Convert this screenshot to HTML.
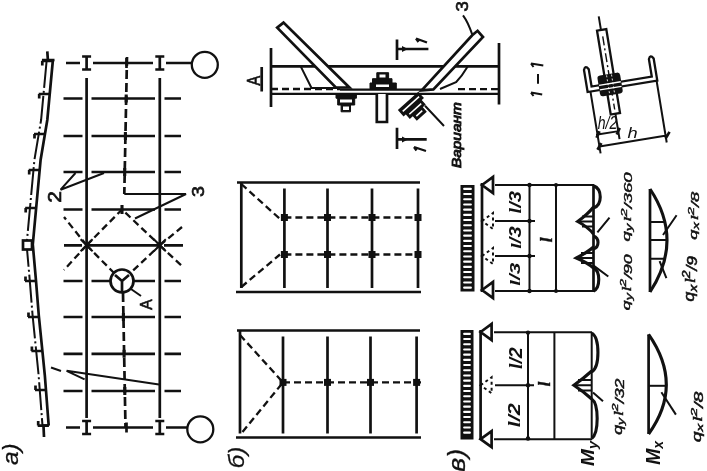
<!DOCTYPE html>
<html><head><meta charset="utf-8"><style>
html,body{margin:0;padding:0;background:#fff;}
svg{display:block;filter:blur(0.35px)}
.th{stroke:#111;stroke-width:2;fill:none}
.s2{stroke:#111;stroke-width:2.3;fill:none}
.s{stroke:#111;stroke-width:2.7;fill:none}
.s3{stroke:#111;stroke-width:3.1;fill:none}
.d{stroke-dasharray:7 4}
.dt{stroke-dasharray:3 3}
.d2{stroke-dasharray:9 4}
.dd{stroke-dasharray:28 3 2 3}
text{font-family:"Liberation Sans",sans-serif;fill:#111}
</style></head><body>
<svg width="707" height="471" viewBox="0 0 707 471">
<path d="M66 63H80M93 63H153M166 63H192" class="s"/>
<path d="M82.1 56.5H91.1M86.6 56.5V69.5M82.1 69.5H91.1" class="s"/>
<path d="M155.3 56.5H164.3M159.8 56.5V69.5M155.3 69.5H164.3" class="s"/>
<path d="M126.5 58V68" class="s"/>
<circle cx="204.8" cy="64.8" r="13" class="s2"/>
<path d="M63.5 98.5H82.5M91.5 98.5H155M164.5 98.5H181" class="s"/>
<path d="M63.5 136H82.5M91.5 136H155M164.5 136H181" class="s"/>
<path d="M63.5 172H82.5M91.5 172H155M164.5 172H181" class="s"/>
<path d="M63.5 209.5H82.5M91.5 209.5H155M164.5 209.5H181" class="s"/>
<path d="M64 245.3H82M164 245.3H183" class="s"/>
<path d="M63.5 281H82.5M91.5 281H155M164.5 281H181" class="s"/>
<path d="M63.5 317H82.5M91.5 317H155M164.5 317H181" class="s"/>
<path d="M63.5 353.8H82.5M91.5 353.8H155M164.5 353.8H181" class="s"/>
<path d="M63.5 391H82.5M91.5 391H155M164.5 391H181" class="s"/>
<path d="M66 427.5H80M93 427.5H153M166 427.5H187" class="s"/>
<path d="M82.1 421.0H91.1M86.6 421.0V434.0M82.1 434.0H91.1" class="s"/>
<path d="M155.3 421.0H164.3M159.8 421.0V434.0M155.3 434.0H164.3" class="s"/>
<path d="M126.5 422.5V432.5" class="s"/>
<circle cx="200.3" cy="429.3" r="13" class="s2"/>
<path d="M86.6 78V418M159.8 78V418" class="s"/>
<path d="M127 57L124.3 194M123 293L125.5 428" class="s d2"/>
<path d="M126.2 94.5V102.5" class="s3"/>
<path d="M125.4 132V140" class="s3"/>
<path d="M124.7 168V176" class="s3"/>
<path d="M122.8 277V285" class="s3"/>
<path d="M123.4 313V321" class="s3"/>
<path d="M124.1 349.8V357.8" class="s3"/>
<path d="M124.8 387V395" class="s3"/>
<path d="M124.3 194H186L135 218.5" class="th"/>
<path d="M104 173L60.6 189.7L75.5 173" class="th"/>
<path d="M84.6 379.3L66.6 370.8L159 384.6" class="th"/>
<path d="M51 367.5L61 371" class="th"/>
<path d="M86.6 245.3L122 209.5L159.8 245.3L122 281Z" class="s2 d"/>
<path d="M86.6 245.3L64 217M86.6 245.3L64 270M159.8 245.3L182 227M159.8 245.3L182 266" class="s2 d"/>
<path d="M86.6 245.3H159.8" class="s"/>
<path d="M122 205V214" class="s3"/>
<path d="M80.6 239.3L92.6 251.3M80.6 251.3L92.6 239.3" class="th"/>
<path d="M153.8 239.3L165.8 251.3M153.8 251.3L165.8 239.3" class="th"/>
<circle cx="122" cy="281" r="11.5" class="s" style="fill:#fff"/>
<path d="M122 281V293M122 281L115 275M122 281L129 275" class="s"/>
<path d="M131 289L141 296" class="th"/>
<path d="M47.3 51.4L47.8 59M52.9 60L47.3 120L40.6 160L32.8 244.5L35.9 279.7L38.8 315.5L42.4 351.2L44.8 375L48.7 425.7M43.5 426L44 437" class="s"/>
<path d="M46.7 60L41.1 120L34.4 160L26.6 244.5L29.7 279.7L32.6 315.5L36.2 351.2L38.6 375L42.5 425.7" class="th dd"/>
<path d="M42 60H54.5M42.5 425.7H48.7" class="s"/>
<rect x="23" y="240.5" width="9" height="9" class="s" style="fill:#fff"/>
<path d="M41.8 61H52.8M42.3 61V65.5" class="s"/>
<path d="M38.7 94H49.7M39.2 94V98.5" class="s"/>
<path d="M34.0 134H45.0M34.5 134V138.5" class="s"/>
<path d="M28.7 170H39.7M29.2 170V174.5" class="s"/>
<path d="M25.2 208H36.2M25.7 208V212.5" class="s"/>
<path d="M25.0 281H36.0M25.5 281V276.5" class="s"/>
<path d="M28.0 317H39.0M28.5 317V312.5" class="s"/>
<path d="M31.4 351H42.4M31.9 351V346.5" class="s"/>
<path d="M35.0 390H46.0M35.5 390V385.5" class="s"/>
<path d="M37.7 425.6H48.7M38.2 425.6V421.1" class="s"/>
<path d="M237 182.5H420M236 292H421" class="s"/>
<path d="M241.3 182.5V288" class="s"/>
<path d="M284.4 188.5V288" class="s"/>
<path d="M327.5 188.5V288" class="s"/>
<path d="M372 188.5V288" class="s"/>
<path d="M418 188.5V288" class="s"/>
<path d="M284.4 217.5H421" class="s2 d"/>
<rect x="280.9" y="214.0" width="7" height="7" fill="#111"/>
<rect x="324.0" y="214.0" width="7" height="7" fill="#111"/>
<rect x="368.5" y="214.0" width="7" height="7" fill="#111"/>
<rect x="414.5" y="214.0" width="7" height="7" fill="#111"/>
<path d="M284.4 254.5H421" class="s2 d"/>
<rect x="280.9" y="251.0" width="7" height="7" fill="#111"/>
<rect x="324.0" y="251.0" width="7" height="7" fill="#111"/>
<rect x="368.5" y="251.0" width="7" height="7" fill="#111"/>
<rect x="414.5" y="251.0" width="7" height="7" fill="#111"/>
<path d="M241.3 184L280 219M241.3 287L280 254.5" class="s2 d"/>
<path d="M237 330.5H420M236 437.5H421" class="s"/>
<path d="M240 330.5V433.5" class="s"/>
<path d="M283 336.5V433.5" class="s"/>
<path d="M327.5 336.5V433.5" class="s"/>
<path d="M370.5 336.5V433.5" class="s"/>
<path d="M416.6 336.5V433.5" class="s"/>
<path d="M283 382.4H421" class="s2 d"/>
<rect x="279.5" y="378.9" width="7" height="7" fill="#111"/>
<rect x="324.0" y="378.9" width="7" height="7" fill="#111"/>
<rect x="367.0" y="378.9" width="7" height="7" fill="#111"/>
<rect x="413.1" y="378.9" width="7" height="7" fill="#111"/>
<path d="M240 335L283 382.4L240 435" class="s2 d"/>
<rect x="460.5" y="185" width="14.0" height="106.5" fill="#111"/>
<rect x="463.1" y="187.8" width="8.8" height="2.1" rx="1" fill="#fff"/>
<rect x="463.1" y="193.0" width="8.8" height="2.1" rx="1" fill="#fff"/>
<rect x="463.1" y="198.2" width="8.8" height="2.1" rx="1" fill="#fff"/>
<rect x="463.1" y="203.4" width="8.8" height="2.1" rx="1" fill="#fff"/>
<rect x="463.1" y="208.6" width="8.8" height="2.1" rx="1" fill="#fff"/>
<rect x="463.1" y="213.8" width="8.8" height="2.1" rx="1" fill="#fff"/>
<rect x="463.1" y="219.0" width="8.8" height="2.1" rx="1" fill="#fff"/>
<rect x="463.1" y="224.2" width="8.8" height="2.1" rx="1" fill="#fff"/>
<rect x="463.1" y="229.4" width="8.8" height="2.1" rx="1" fill="#fff"/>
<rect x="463.1" y="234.6" width="8.8" height="2.1" rx="1" fill="#fff"/>
<rect x="463.1" y="239.8" width="8.8" height="2.1" rx="1" fill="#fff"/>
<rect x="463.1" y="245.0" width="8.8" height="2.1" rx="1" fill="#fff"/>
<rect x="463.1" y="250.2" width="8.8" height="2.1" rx="1" fill="#fff"/>
<rect x="463.1" y="255.4" width="8.8" height="2.1" rx="1" fill="#fff"/>
<rect x="463.1" y="260.6" width="8.8" height="2.1" rx="1" fill="#fff"/>
<rect x="463.1" y="265.8" width="8.8" height="2.1" rx="1" fill="#fff"/>
<rect x="463.1" y="271.0" width="8.8" height="2.1" rx="1" fill="#fff"/>
<rect x="463.1" y="276.2" width="8.8" height="2.1" rx="1" fill="#fff"/>
<rect x="463.1" y="281.4" width="8.8" height="2.1" rx="1" fill="#fff"/>
<rect x="463.1" y="286.6" width="8.8" height="2.1" rx="1" fill="#fff"/>
<rect x="460.5" y="330" width="13.0" height="109.5" fill="#111"/>
<rect x="463.1" y="332.8" width="7.8" height="2.1" rx="1" fill="#fff"/>
<rect x="463.1" y="338.0" width="7.8" height="2.1" rx="1" fill="#fff"/>
<rect x="463.1" y="343.2" width="7.8" height="2.1" rx="1" fill="#fff"/>
<rect x="463.1" y="348.4" width="7.8" height="2.1" rx="1" fill="#fff"/>
<rect x="463.1" y="353.6" width="7.8" height="2.1" rx="1" fill="#fff"/>
<rect x="463.1" y="358.8" width="7.8" height="2.1" rx="1" fill="#fff"/>
<rect x="463.1" y="364.0" width="7.8" height="2.1" rx="1" fill="#fff"/>
<rect x="463.1" y="369.2" width="7.8" height="2.1" rx="1" fill="#fff"/>
<rect x="463.1" y="374.4" width="7.8" height="2.1" rx="1" fill="#fff"/>
<rect x="463.1" y="379.6" width="7.8" height="2.1" rx="1" fill="#fff"/>
<rect x="463.1" y="384.8" width="7.8" height="2.1" rx="1" fill="#fff"/>
<rect x="463.1" y="390.0" width="7.8" height="2.1" rx="1" fill="#fff"/>
<rect x="463.1" y="395.2" width="7.8" height="2.1" rx="1" fill="#fff"/>
<rect x="463.1" y="400.4" width="7.8" height="2.1" rx="1" fill="#fff"/>
<rect x="463.1" y="405.6" width="7.8" height="2.1" rx="1" fill="#fff"/>
<rect x="463.1" y="410.8" width="7.8" height="2.1" rx="1" fill="#fff"/>
<rect x="463.1" y="416.0" width="7.8" height="2.1" rx="1" fill="#fff"/>
<rect x="463.1" y="421.2" width="7.8" height="2.1" rx="1" fill="#fff"/>
<rect x="463.1" y="426.4" width="7.8" height="2.1" rx="1" fill="#fff"/>
<rect x="463.1" y="431.6" width="7.8" height="2.1" rx="1" fill="#fff"/>
<path d="M482 183V292" class="s"/>
<path d="M482 185L493 177V193Z" class="s" fill="none"/>
<path d="M482 290L493 282V298Z" class="s" fill="none"/>
<path d="M482 221L493 213V229Z" class="th dt" fill="none"/>
<path d="M482 256L493 248V264Z" class="th dt" fill="none"/>
<path d="M495 185H594M495 291H594M495 221H535M495 256H535M529.5 185V291M556 185V291" class="th"/>
<circle cx="529.5" cy="185" r="2.2" fill="#111"/>
<circle cx="529.5" cy="221" r="2.2" fill="#111"/>
<circle cx="529.5" cy="256" r="2.2" fill="#111"/>
<circle cx="529.5" cy="291" r="2.2" fill="#111"/>
<circle cx="556" cy="185" r="2" fill="#111"/><circle cx="556" cy="291" r="2" fill="#111"/>
<path d="M480.6 330V440" class="s"/>
<path d="M480.6 332L491.6 324V340Z" class="s" fill="none"/>
<path d="M480.6 439.2L491.6 431.2V447.2Z" class="s" fill="none"/>
<path d="M480.6 385.3L491.6 377.3V393.3Z" class="th dt" fill="none"/>
<path d="M494 332.3H592M494 439.3H592M495 385.3H534M528 332.6V438.5M554.4 332.6V438.5" class="th"/>
<circle cx="528" cy="332.6" r="2.2" fill="#111"/>
<circle cx="528" cy="385.3" r="2.2" fill="#111"/>
<circle cx="528" cy="438.5" r="2.2" fill="#111"/>
<path d="M593.5 185.7C602.5 189 602.5 205 593.5 208" class="s3"/>
<path d="M593.5 207Q588 214 577.7 221.5Q588 227 593.5 234" class="s3"/>
<path d="M593.5 236C599.5 238 599.5 247 593.5 249" class="s3"/>
<path d="M593.5 247Q588 252 576.4 258Q588 263 593.5 268" class="s3"/>
<path d="M593.5 268C600.5 271 600.5 288 593.5 291" class="s3"/>
<path d="M593.5 185V291" class="s"/>
<path d="M582 216.5H593M580 221.5H593M582 226.5H593M581 253H593M579 258H593M581 263H593" stroke="#111" stroke-width="2"/>
<path d="M609.5 217.6L597.4 232.3M608.3 276.5L593.6 265.6" class="th"/>
<path d="M650 189V292" class="s"/><path d="M650 189Q684 240 650 292" class="s3"/>
<path d="M650 222.1H665M650 240H667M650 258.7H664" class="th"/>
<path d="M676.6 215.3L663 235M666.4 278.2L659.6 261.2" class="th"/>
<path d="M591.7 333C600 338 600 367 591.7 372" class="s3"/>
<path d="M591.7 371Q584 378 573.9 385.3Q584 392 591.7 399" class="s3"/>
<path d="M591.7 399C599 404 599 433 591.7 438.5" class="s3"/>
<path d="M591.7 333V438.5" class="th"/>
<path d="M578 380H591M576 385.3H591M578 390.5H591" stroke="#111" stroke-width="2"/>
<path d="M603 401.3L593 392.4" class="th"/>
<path d="M648.6 334.4V434" class="s"/><path d="M648.6 334.4Q684 385 648.6 434" class="s3"/>
<path d="M648.6 385.8H666" class="th"/>
<path d="M675.9 414.6L661.4 392.2" class="th"/>
<text transform="translate(630.43 241.46) rotate(-90) scale(0.4635 0.2551)" font-size="40" style="font-style:italic;" stroke="#111" stroke-width="1.5">q<tspan font-size="0.8em" dy="0.2em">y</tspan><tspan dy="-0.2em" font-size="0.5em"> </tspan><tspan font-family="Liberation Serif" font-style="italic">l</tspan><tspan font-size="0.8em" dy="-0.45em">2</tspan><tspan dy="0.45em">/360</tspan></text>
<text transform="translate(629.86 310.14) rotate(-90) scale(0.4397 0.2959)" font-size="40" style="font-style:italic;" stroke="#111" stroke-width="1.5">q<tspan font-size="0.8em" dy="0.2em">y</tspan><tspan dy="-0.2em" font-size="0.5em"> </tspan><tspan font-family="Liberation Serif" font-style="italic">l</tspan><tspan font-size="0.8em" dy="-0.45em">2</tspan><tspan dy="0.45em">/90</tspan></text>
<text transform="translate(697.16 239.66) rotate(-90) scale(0.4587 0.2818)" font-size="40" style="font-style:italic;" stroke="#111" stroke-width="1.5">q<tspan font-size="0.8em" dy="0.2em">x</tspan><tspan dy="-0.2em" font-size="0.5em"> </tspan><tspan font-family="Liberation Serif" font-style="italic">l</tspan><tspan font-size="0.8em" dy="-0.45em">2</tspan><tspan dy="0.45em">/8</tspan></text>
<text transform="translate(694.49 301.54) rotate(-90) scale(0.4359 0.3682)" font-size="40" style="font-style:italic;" stroke="#111" stroke-width="1.5">q<tspan font-size="0.8em" dy="0.2em">x</tspan><tspan dy="-0.2em" font-size="0.5em"> </tspan><tspan font-family="Liberation Serif" font-style="italic">l</tspan><tspan font-size="0.8em" dy="-0.45em">2</tspan><tspan dy="0.45em">/9</tspan></text>
<text transform="translate(622.11 434.74) rotate(-90) scale(0.4421 0.3061)" font-size="40" style="font-style:italic;" stroke="#111" stroke-width="1.5">q<tspan font-size="0.8em" dy="0.2em">y</tspan><tspan dy="-0.2em" font-size="0.5em"> </tspan><tspan font-family="Liberation Serif" font-style="italic">l</tspan><tspan font-size="0.8em" dy="-0.45em">2</tspan><tspan dy="0.45em">/32</tspan></text>
<text transform="translate(700.8 442.28) rotate(-90) scale(0.4846 0.3)" font-size="40" style="font-style:italic;" stroke="#111" stroke-width="1.5">q<tspan font-size="0.8em" dy="0.2em">x</tspan><tspan dy="-0.2em" font-size="0.5em"> </tspan><tspan font-family="Liberation Serif" font-style="italic">l</tspan><tspan font-size="0.8em" dy="-0.45em">2</tspan><tspan dy="0.45em">/8</tspan></text>
<text transform="translate(594.47 465.9) rotate(-90) scale(0.5041 0.4667)" font-size="40" style="font-style:italic;font-weight:bold;" stroke="#111" stroke-width="0">M<tspan font-size="0.72em" dy="0.18em">y</tspan></text>
<text transform="translate(660.29 464.78) rotate(-90) scale(0.4816 0.5212)" font-size="40" style="font-style:italic;font-weight:bold;" stroke="#111" stroke-width="0">M<tspan font-size="0.72em" dy="0.18em">x</tspan></text>
<text transform="translate(461.16 168.0) rotate(-90) scale(0.3847 0.3158)" font-size="40" style="font-style:italic;" stroke="#111" stroke-width="2.8">Вариант</text>
<text transform="translate(18.47 465.01) rotate(-90) scale(0.6121 0.5658)" font-size="40" style="font-style:italic;" stroke="#111" stroke-width="0.5">a)</text>
<text transform="translate(243.83 468.29) rotate(-90) scale(0.5969 0.559)" font-size="40" style="font-style:italic;" stroke="#111" stroke-width="0.5">б)</text>
<text transform="translate(464.58 471.67) rotate(-90) scale(0.6677 0.6026)" font-size="40" style="font-style:italic;" stroke="#111" stroke-width="0.5">в)</text>
<text transform="translate(61.16 202.83) rotate(-90) scale(0.525 0.4433)" font-size="40" style="" stroke="#111" stroke-width="1.5">2</text>
<text transform="translate(204.37 197.09) rotate(-90) scale(0.49 0.4333)" font-size="40" style="" stroke="#111" stroke-width="1.5">3</text>
<text transform="translate(468.37 11.46) rotate(-90) scale(0.465 0.4267)" font-size="40" style="" stroke="#111" stroke-width="1.5">3</text>
<text transform="translate(151.69 309.71) rotate(-90) scale(0.3929 0.41)" font-size="40" style="" stroke="#111" stroke-width="1.5">A</text>
<text transform="translate(259.92 85.54) rotate(-90) scale(0.3643 0.48)" font-size="40" style="" stroke="#111" stroke-width="1.5">A</text>
<text transform="translate(521.07 213.4) rotate(-90) scale(0.5023 0.429)" font-size="40" style="font-style:italic;font-weight:bold;" stroke="#111" stroke-width="0"><tspan font-family="Liberation Serif">l</tspan>/3</text>
<text transform="translate(521.11 248.7) rotate(-90) scale(0.5 0.3903)" font-size="40" style="font-style:italic;font-weight:bold;" stroke="#111" stroke-width="0"><tspan font-family="Liberation Serif">l</tspan>/3</text>
<text transform="translate(520.42 285.82) rotate(-90) scale(0.5186 0.3839)" font-size="40" style="font-style:italic;font-weight:bold;" stroke="#111" stroke-width="0"><tspan font-family="Liberation Serif">l</tspan>/3</text>
<text transform="translate(521.83 369.09) rotate(-90) scale(0.493 0.4677)" font-size="40" style="font-style:italic;font-weight:bold;" stroke="#111" stroke-width="0"><tspan font-family="Liberation Serif">l</tspan>/2</text>
<text transform="translate(519.57 427.34) rotate(-90) scale(0.5419 0.4258)" font-size="40" style="font-style:italic;font-weight:bold;" stroke="#111" stroke-width="0"><tspan font-family="Liberation Serif">l</tspan>/2</text>
<text transform="translate(551.5 242.3) rotate(-90) scale(0.4333 0.3967)" font-size="40" style="font-style:italic;font-weight:bold;" stroke="#111" stroke-width="1"><tspan font-family="Liberation Serif">l</tspan></text>
<text transform="translate(550.19 386.2) rotate(-90) scale(0.4083 0.4067)" font-size="40" style="font-style:italic;font-weight:bold;" stroke="#111" stroke-width="1"><tspan font-family="Liberation Serif">l</tspan></text>
<text transform="translate(597.65 129.0) rotate(0) scale(0.3519 0.4667)" font-size="40" style="font-style:italic;" stroke="#111" stroke-width="0">h/2</text>
<text transform="translate(627.54 137.7) rotate(0) scale(0.4579 0.3567)" font-size="40" style="font-style:italic;" stroke="#111" stroke-width="0">h</text>
<path d="M271 48V107M499 43V104.5" class="s"/>
<path d="M261.7 67V91.5" class="s"/>
<path d="M271 66.4H499" class="s"/>
<path d="M271 93.8H499" class="s2"/>
<path d="M340 89.7H425" class="s2"/>
<path d="M271 89H340M458 89.2H499" class="s2 d"/>
<path d="M277.2 27.6L283.5 22.6L349.4 87.5L335.8 87.5Z" class="s" style="fill:#fff"/>
<path d="M477.6 30.8L483 37L433.4 89.4L421.7 90.3L472.2 35.3Z" class="s" style="fill:#fff"/>
<path d="M300.7 66.4L311.5 88H340M467.7 66.4Q462 76 456 82.2L440 89" class="th"/>
<path d="M336 94.8H356.4V98.2H336ZM337.7 98.2H354.7V105H337.7ZM341.1 105H350.5V111.8H341.1Z" fill="#111" stroke="#111" stroke-width="1"/>
<rect x="340" y="99.5" width="12" height="3" fill="#fff"/><rect x="343" y="106.5" width="6" height="3.5" fill="#fff"/>
<path d="M376.8 72.7H388.6V78.7H376.8ZM372.5 78.7H392V83H372.5ZM370 83H396.3V88.9H370Z" fill="#111" stroke="#111" stroke-width="1"/>
<rect x="379.5" y="74.5" width="6" height="3" fill="#fff"/><rect x="376" y="84.5" width="13" height="2.5" fill="#fff"/>
<path d="M376.8 94V122H387V94" class="s" style="fill:#fff"/>
<g transform="rotate(-42 414 106)"><rect x="400" y="99" width="26" height="7" fill="#111" stroke="#111" stroke-width="1.5"/><rect x="403" y="106" width="20" height="6" fill="#111" stroke="#111" stroke-width="1.5"/><rect x="407" y="112" width="12" height="6" fill="#111" stroke="#111" stroke-width="1.5"/><path d="M402 102.5H424M405 109H421M409 115H417" stroke="#fff" stroke-width="1.6"/></g>
<path d="M425 105.8L444 126M472.2 34.4Q468 22 463 15.3" class="th"/>
<path d="M397 39.5V60M397 49H428.4M397 127.8V149M397 139.4H426.7" class="s"/>
<path d="M402 46L408 49L402 52ZM402 136.4L408 139.4L402 142.4Z" fill="#111"/>
<g transform="rotate(-9.3 609.5 84)">
<path d="M609.8 15.5V29.5" class="th"/>
<rect x="605.8" y="29.3" width="9.4" height="85" class="s2" style="fill:#fff"/>
<path d="M610.5 36V110" stroke="#111" stroke-width="1.4" stroke-dasharray="9 3 2 3"/>
<path d="M586.6 66Q588.6 61 591.4 66V83.6H652.4V66Q654.4 61 657.2 66V88.4H586.6Z" class="s2" style="fill:#fff"/>
<path d="M589.5 88.4V151M656.5 88.4V151M588 144H659M588 132H611M610.5 114V140" class="th"/>
<path d="M587 147L592 141M656 147L661 141M588 135L592 129M608.5 135L612.5 129" class="s"/>
<rect x="598.5" y="74" width="23" height="21" rx="3" fill="#111"/>
<path d="M599 83.6H621M599 88.2H621" stroke="#fff" stroke-width="1.3"/>
<path d="M608 75V94M613 75V94" stroke="#fff" stroke-width="0.8" stroke-dasharray="2 2"/>
</g>
<path d="M531 63.5L543.3 65.5M531 63.5L533.5 67M531 92.6L542.2 94.6M531 92.6L533.5 96M538 74V83.8" class="th"/>
<path d="M416 38.5L427 42.5M416 38.5L418.5 42M414 147L426 151M414 147L416.5 150.5" class="s2"/>
</svg></body></html>
